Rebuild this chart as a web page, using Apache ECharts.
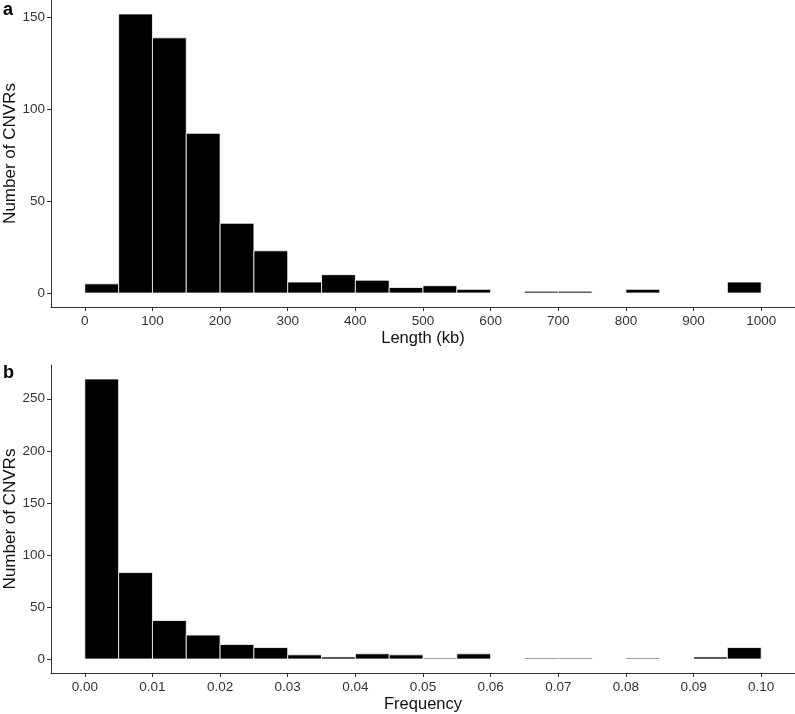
<!DOCTYPE html>
<html>
<head>
<meta charset="utf-8">
<script src="https://cdn.jsdelivr.net/npm/echarts@6/dist/echarts.min.js"></script>
<style>
html,body{margin:0;padding:0;background:#fff;}
#chart{width:795px;height:714px;}
</style>
</head>
<body>
<div id="chart"></div>
<script>
// Panel a: CNVR length histogram (bin width 50 kb)
const lengthBinStarts = [0, 50, 100, 150, 200, 250, 300, 350, 400, 450, 500, 550, 600, 650, 700, 750, 800, 850, 900, 950];
const lengthCounts    = [5, 152, 139, 87, 38, 23, 6, 10, 7, 3, 4, 2, 0, 1, 1, 0, 2, 0, 0, 6];
const lengthBinWidth = 50;
const lengthTicks = [0, 100, 200, 300, 400, 500, 600, 700, 800, 900, 1000];
const lengthCountTicks = [0, 50, 100, 150];

// Panel b: CNVR frequency histogram (bin width 0.005)
const freqBinStarts = [0, 0.005, 0.01, 0.015, 0.02, 0.025, 0.03, 0.035, 0.04, 0.045, 0.05, 0.055, 0.06, 0.065, 0.07, 0.075, 0.08, 0.085, 0.09, 0.095];
const freqCounts    = [269, 83, 37, 23, 14, 11, 4, 2, 5, 4, 1, 5, 0, 1, 1, 0, 1, 0, 2, 11];
const freqBinWidth = 0.005;
const freqTicks = [0, 0.01, 0.02, 0.03, 0.04, 0.05, 0.06, 0.07, 0.08, 0.09, 0.10];
const freqCountTicks = [0, 50, 100, 150, 200, 250];

function binsToData(starts, counts, w) {
  const out = [];
  for (let i = 0; i < starts.length; i++) {
    if (counts[i] > 0) out.push([starts[i], starts[i] + w, counts[i]]);
  }
  return out;
}

function renderBin(params, api) {
  const p0 = api.coord([api.value(0), 0]);
  const p1 = api.coord([api.value(1), api.value(2)]);
  return {
    type: 'rect',
    shape: { x: p0[0], y: p1[1], width: p1[0] - p0[0], height: p0[1] - p1[1] },
    style: { fill: '#000', stroke: '#fff', lineWidth: 0.8 }
  };
}

const FONT = '"Liberation Sans", Arial, Helvetica, sans-serif';
const axisColor = '#333';

function xAxisCfg(gridIndex, min, max, ticks, name, fmt) {
  return {
    type: 'value', gridIndex, min, max,
    name, nameLocation: 'middle', nameGap: 23,
    nameTextStyle: { fontFamily: FONT, fontSize: 16.5, color: '#111' },
    axisLine: { show: true, onZero: false, lineStyle: { color: axisColor, width: 1 } },
    axisTick: { show: true, length: 4, customValues: ticks, lineStyle: { color: axisColor, width: 1 } },
    axisLabel: { customValues: ticks, margin: 7, fontFamily: FONT, fontSize: 13.5, color: '#333', formatter: fmt },
    splitLine: { show: false }
  };
}
function yAxisCfg(gridIndex, min, max, ticks) {
  return {
    type: 'value', gridIndex, min, max,
    name: 'Number of CNVRs', nameLocation: 'middle', nameGap: 32, nameMoveOverlap: false,
    nameTextStyle: { fontFamily: FONT, fontSize: 17, color: '#111' },
    axisLine: { show: true, onZero: false, lineStyle: { color: axisColor, width: 1 } },
    axisTick: { show: true, length: 4, customValues: ticks, lineStyle: { color: axisColor, width: 1 } },
    axisLabel: { customValues: ticks, margin: 6, fontFamily: FONT, fontSize: 13.5, color: '#333' },
    splitLine: { show: false }
  };
}

const chart = echarts.init(document.getElementById('chart'), null, { renderer: 'canvas' });
chart.setOption({
  animation: false,
  backgroundColor: '#fff',
  grid: [
    { left: 51, top: 0, width: 744, height: 307, containLabel: false, outerBoundsMode: 'none' },
    { left: 51, top: 365, width: 744, height: 308, containLabel: false, outerBoundsMode: 'none' }
  ],
  xAxis: [
    xAxisCfg(0, -50, 1050, lengthTicks, 'Length (kb)', v => String(v)),
    xAxisCfg(1, -0.005, 0.105, freqTicks, 'Frequency', v => v.toFixed(2))
  ],
  yAxis: [
    yAxisCfg(0, -7.6, 159.6, lengthCountTicks),
    yAxisCfg(1, -13.45, 282.45, freqCountTicks)
  ],
  graphic: [
    { type: 'text', left: 3, top: 1, style: { text: 'a', font: 'bold 18px ' + FONT, fill: '#000' } },
    { type: 'text', left: 3, top: 364, style: { text: 'b', font: 'bold 18px ' + FONT, fill: '#000' } }
  ],
  series: [
    { type: 'custom', xAxisIndex: 0, yAxisIndex: 0, renderItem: renderBin,
      encode: { x: [0, 1], y: 2 }, data: binsToData(lengthBinStarts, lengthCounts, lengthBinWidth) },
    { type: 'custom', xAxisIndex: 1, yAxisIndex: 1, renderItem: renderBin,
      encode: { x: [0, 1], y: 2 }, data: binsToData(freqBinStarts, freqCounts, freqBinWidth) }
  ]
});
</script>
</body>
</html>
